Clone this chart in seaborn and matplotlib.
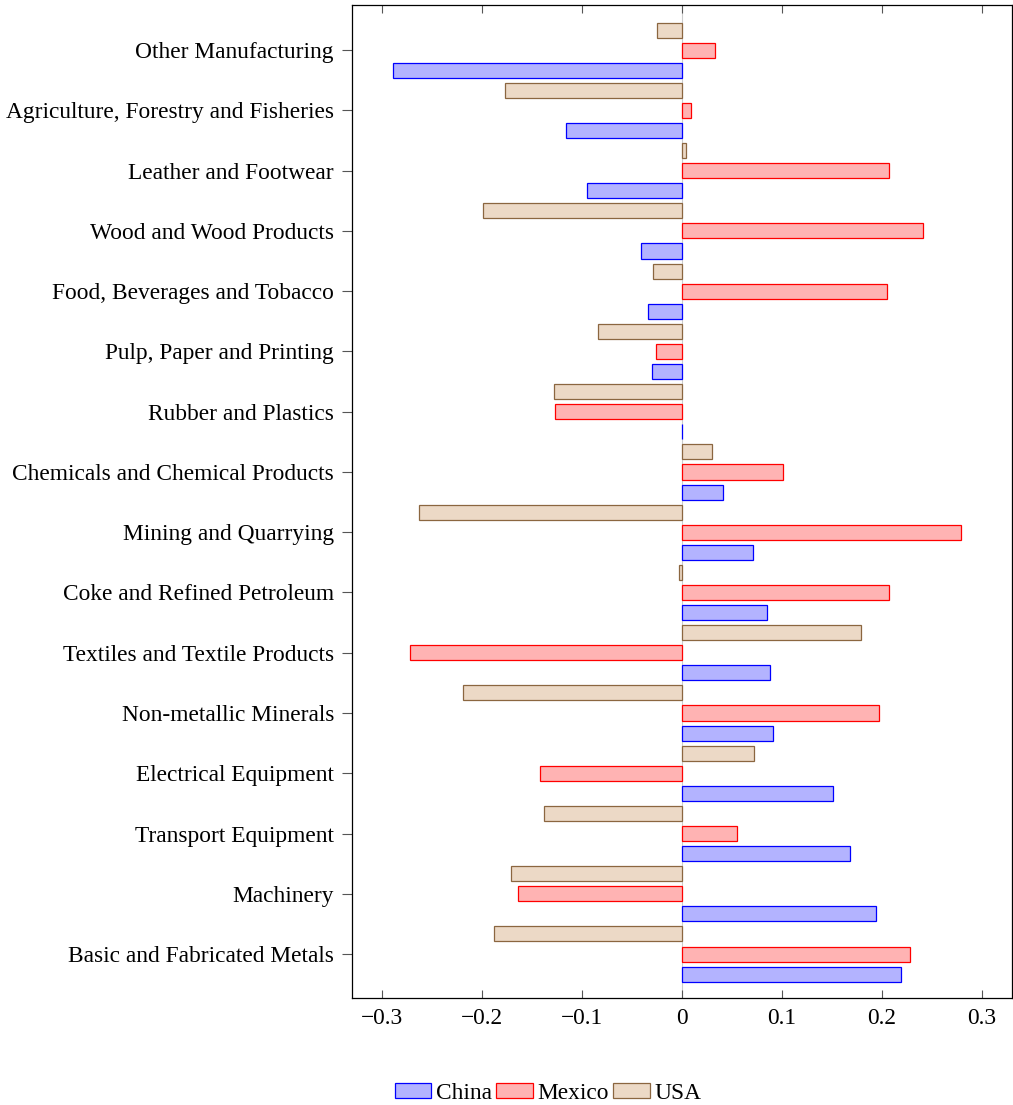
import matplotlib
matplotlib.use("Agg")
import matplotlib.pyplot as plt
import matplotlib.patches as mpatches
import seaborn as sns
import pandas as pd

sectors = [
    "Other Manufacturing",
    "Agriculture, Forestry and Fisheries",
    "Leather and Footwear",
    "Wood and Wood Products",
    "Food, Beverages and Tobacco",
    "Pulp, Paper and Printing",
    "Rubber and Plastics",
    "Chemicals and Chemical Products",
    "Mining and Quarrying",
    "Coke and Refined Petroleum",
    "Textiles and Textile Products",
    "Non-metallic Minerals",
    "Electrical Equipment",
    "Transport Equipment",
    "Machinery",
    "Basic and Fabricated Metals",
]
china = [-0.289, -0.116, -0.095, -0.041, -0.034, -0.030, 0.0, 0.041,
         0.071, 0.085, 0.088, 0.091, 0.151, 0.168, 0.194, 0.219]
mexico = [0.033, 0.009, 0.207, 0.241, 0.205, -0.026, -0.127, 0.101,
          0.279, 0.207, -0.272, 0.197, -0.142, 0.055, -0.164, 0.228]
usa = [-0.025, -0.177, 0.004, -0.199, -0.029, -0.084, -0.128, 0.030,
       -0.263, -0.003, 0.179, -0.219, 0.072, -0.138, -0.171, -0.188]

countries = ["China", "Mexico", "USA"]
fills = {"China": "#b3b3ff", "Mexico": "#ffb3b3", "USA": "#ecd9c6"}
edges = {"China": "#0000ff", "Mexico": "#ff0000", "USA": "#8b6640"}

df = pd.DataFrame({
    "sector": sectors * 3,
    "value": china + mexico + usa,
    "country": ["China"] * 16 + ["Mexico"] * 16 + ["USA"] * 16,
})

sns.set_style("ticks")
plt.rcParams["font.family"] = ["Liberation Serif", "DejaVu Serif"]
plt.rcParams["font.size"] = 16.8
plt.rcParams["text.color"] = "black"
plt.rcParams["xtick.labelcolor"] = "black"
plt.rcParams["ytick.labelcolor"] = "black"

fig = plt.figure(figsize=(10.13, 11.05), dpi=100)
ax = fig.add_axes([0.3475, 0.0968, 0.6515, 0.8987])

hue_order = ["USA", "Mexico", "China"]
ax.axvline(0, color="#cccccc", linewidth=0.8, zorder=0)
sns.barplot(data=df, x="value", y="sector", hue="country", order=sectors,
            hue_order=hue_order, palette=fills, saturation=1, width=1.0,
            gap=0.25, orient="h", ax=ax, legend=False, zorder=2)
for cont, name in zip(ax.containers, hue_order):
    for bar in cont:
        bar.set_edgecolor(edges[name])
        bar.set_linewidth(0.9)

ax.set_xlim(-0.33, 0.33)
ax.set_ylim(15.73, -0.75)
ax.set_xticks([-0.3, -0.2, -0.1, 0, 0.1, 0.2, 0.3])
ax.set_xticklabels(["\u22120.3", "\u22120.2", "\u22120.1", "0", "0.1", "0.2", "0.3"])
ax.set_xlabel("")
ax.set_ylabel("")
ax.tick_params(axis="x", direction="in", length=6, top=True, width=0.8,
               color="#555555", labelsize=16.8, pad=7)
ax.tick_params(axis="y", direction="out", length=7, width=0.8,
               color="#555555", labelsize=16.8, pad=6)
for sp in ax.spines.values():
    sp.set_visible(True)
    sp.set_linewidth(0.9)
    sp.set_color("black")

handles = [mpatches.Patch(facecolor=fills[c], edgecolor=edges[c], linewidth=0.9,
                          label=c) for c in countries]
fig.legend(handles=handles, loc="center", bbox_to_anchor=(0.541, 0.0105), ncol=3,
           frameon=False, fontsize=16.8, handlelength=1.55, handleheight=0.57,
           handletextpad=0.2, columnspacing=0.2, borderpad=0)

fig.savefig("out.png", dpi=100, facecolor="white")
